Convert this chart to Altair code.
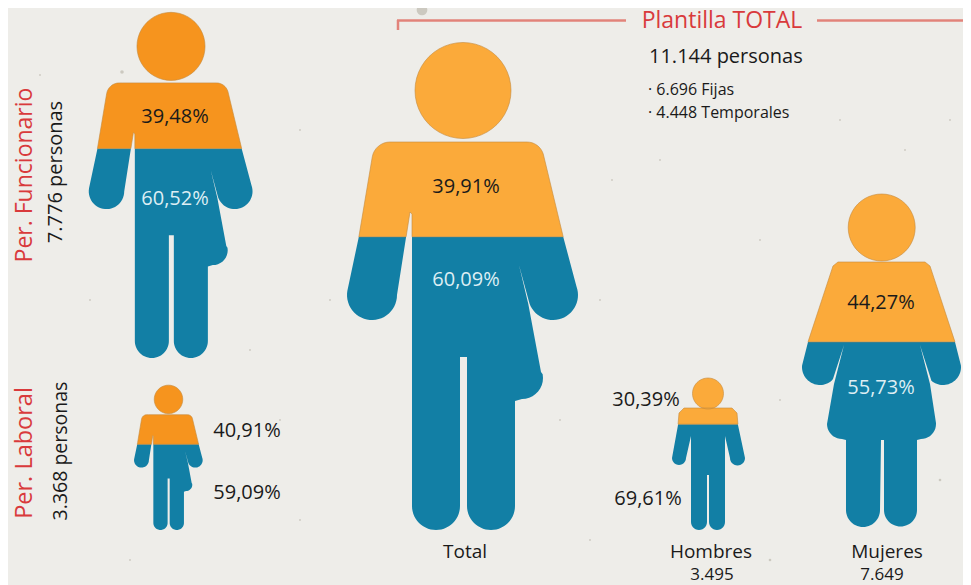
import math
import altair as alt
import pandas as pd

# ---------- values ----------
FIG_NAMES = ["Per. Funcionario", "Per. Laboral", "Total", "Hombres", "Mujeres"]
FIG_PERSONS = [7776, 3368, 11144, 3495, 7649]
FIG_TOP_SHARE = [39.48, 40.91, 39.91, 30.39, 44.27]
FIG_BOTTOM_SHARE = [60.52, 59.09, 60.09, 69.61, 55.73]

# ---------- layout (page pixels) ----------
FIG_TEMPLATE = ["male", "male", "male", "plain", "dress"]
FIG_CX = [171, 168.5, 463, 708, 881.7]
FIG_FOOT = [358, 530, 530, 530, 528]
FIG_HEIGHT = [346, 145, 488, 152, 334]
FIG_TOP_COLOR = ["#F6941E", "#F6941E", "#FBAA3A", "#FBAA3A", "#FBAA3A"]
BLUE = "#127FA5"
RED = "#D93A3C"
INK = "#1A1A1A"
PAPER = "#EEEDE9"
FONT = "Open Sans"
SPECK_X = [422, 269, 40, 122, 300, 330, 612, 840, 760, 905, 280, 90, 560, 600, 770, 950, 300, 250, 590, 780, 130, 30, 940, 660]
SPECK_Y = [10, 5, 75, 72, 130, 300, 180, 120, 240, 150, 420, 300, 420, 300, 560, 120, 520, 350, 540, 400, 560, 480, 480, 160]
SPECK_R = [6, 1.5, 1, 2, 1, 1, 1, 1, 1, 1, 1, 1, 1, 1, 1.5, 1, 1, 1, 1, 1, 1, 1, 1.5, 1]


def arc(cx, cy, r, a0, a1, n=28):
    return [(cx + r * math.cos(math.radians(a0 + (a1 - a0) * i / n)),
             cy + r * math.sin(math.radians(a0 + (a1 - a0) * i / n))) for i in range(n + 1)]


TEMPLATES = {
    "male": dict(
        cx=463, top=42, bottom=530, head=(463, 90.5, 48),
        body=[(395, 142)] + arc(527, 159, 17, -90, -17, 8)
        + [(563, 236)] + arc(553, 295, 25, -20, 160)
        + [(519, 265), (528.3, 304), (541, 372)] + arc(522, 378, 21, -10, 90, 10)
        + [(515, 401)] + arc(491, 506, 24, 0, 180)
        + [(467, 357), (460, 357)] + arc(436, 506, 24, 0, 180)
        + [(412, 214), (410, 212)] + arc(372, 295, 25, 0, 190)
        + [(359, 236)] + arc(390, 160, 18, 190, 270, 8),
    ),
    "plain": dict(
        cx=708, top=378, bottom=530, head=(708, 393.5, 15.5),
        body=[(684, 408), (732, 408), (737, 413), (738, 425), (745, 458)]
        + arc(737.5, 458, 7.5, 0, 180, 14)
        + [(725, 436)] + arc(717, 522, 8, 0, 180, 14)
        + [(709, 475), (707, 475)] + arc(699, 522, 8, 0, 180, 14)
        + [(691, 436)] + arc(679, 458, 7, 0, 180, 14)
        + [(678, 425), (679, 413)],
    ),
    "dress": dict(
        cx=881.7, top=194, bottom=528, head=(881.7, 227.5, 33.5),
        body=[(838, 262), (925, 262), (930, 266), (955, 342)] + arc(943, 367, 18, -5, 130)
        + [(920, 345), (930, 384), (936, 423)] + arc(921, 424, 15, 0, 90, 10)
        + [(917, 440)] + arc(900.5, 510, 16.5, 0, 180)
        + [(884, 440), (881, 440)] + arc(863, 510, 17, 0, 180)
        + [(846, 440)] + arc(842, 424, 15, 90, 180, 10)
        + [(834, 384), (844, 345), (833, 379)] + arc(820, 367, 18, 50, 185)
        + [(808, 342), (833, 266)],
    ),
}


def clip(poly, cut, keep_above):
    inside = (lambda p: p[1] <= cut) if keep_above else (lambda p: p[1] >= cut)
    out = []
    for i, p in enumerate(poly):
        q = poly[(i + 1) % len(poly)]
        if inside(p):
            out.append(p)
        if inside(p) != inside(q):
            t = (cut - p[1]) / (q[1] - p[1])
            out.append((p[0] + t * (q[0] - p[0]), cut))
    return out


def to_path(polys, t):
    h = t["bottom"] - t["top"]
    parts = []
    for poly in polys:
        coords = [(round((x - t["cx"]) / h * 100, 3), round((y - t["bottom"]) / h * 100, 3)) for x, y in poly]
        parts.append("M" + "L".join(f"{x},{y}" for x, y in coords) + "Z")
    return "".join(parts)


X = alt.Scale(domain=[8, 963], range=[0, 955], nice=False, zero=False)
Y = alt.Scale(domain=[8, 585], range=[0, 577], nice=False, zero=False)
layers = []


def place():
    return dict(x=alt.X("x:Q", scale=X, axis=None), y=alt.Y("y:Q", scale=Y, axis=None))


speck_df = pd.DataFrame({"x": SPECK_X, "y": SPECK_Y, "r": SPECK_R})
layers.append(alt.Chart(speck_df).mark_circle(color="#A9A598", opacity=0.5)
              .encode(size=alt.Size("r:Q", scale=alt.Scale(type="pow", exponent=2, domain=[0, 6], range=[0, 113]), legend=None), **place()))

for i, name in enumerate(FIG_NAMES):
    t = TEMPLATES[FIG_TEMPLATE[i]]
    cut = t["top"] + FIG_TOP_SHARE[i] / 100 * (t["bottom"] - t["top"])
    hx, hy, hr = t["head"]
    top_path = to_path([arc(hx, hy, hr, 0, 360, 48), clip(t["body"], cut, True)], t)
    low_path = to_path([clip(t["body"], cut, False)], t)
    df = pd.DataFrame({"x": [FIG_CX[i]], "y": [FIG_FOOT[i]], "figure": [name], "persons": [FIG_PERSONS[i]]})
    size = (FIG_HEIGHT[i] / 50) ** 2
    layers.append(alt.Chart(df).mark_point(shape=low_path, filled=True, fill=BLUE, opacity=1, strokeWidth=0)
                  .encode(size=alt.value(size), **place()))
    layers.append(alt.Chart(df).mark_point(shape=top_path, filled=True, fill=FIG_TOP_COLOR[i], opacity=1,
                                           stroke="#C58A3C", strokeWidth=0.6)
                  .encode(size=alt.value(size), **place()))


def share(v):
    return f"{v:.2f}".replace(".", ",") + "%"


def persons(v):
    return f"{v:,}".replace(",", ".")


LIGHT = "#DDEEF4"
PCT = 20
TEXTS = [
    (share(FIG_TOP_SHARE[0]), 175, 117, PCT, INK, 0, "center"),
    (share(FIG_BOTTOM_SHARE[0]), 175, 199, PCT, LIGHT, 0, "center"),
    (share(FIG_TOP_SHARE[1]), 247, 431, PCT, INK, 0, "center"),
    (share(FIG_BOTTOM_SHARE[1]), 247, 493, PCT, INK, 0, "center"),
    (share(FIG_TOP_SHARE[2]), 466, 187, PCT, INK, 0, "center"),
    (share(FIG_BOTTOM_SHARE[2]), 466, 280, PCT, LIGHT, 0, "center"),
    (share(FIG_TOP_SHARE[3]), 646, 400, PCT, INK, 0, "center"),
    (share(FIG_BOTTOM_SHARE[3]), 648, 499, PCT, INK, 0, "center"),
    (share(FIG_TOP_SHARE[4]), 881, 303, PCT, INK, 0, "center"),
    (share(FIG_BOTTOM_SHARE[4]), 881, 388, PCT, LIGHT, 0, "center"),
    (FIG_NAMES[0], 25, 175, 23, RED, 270, "center"),
    (persons(FIG_PERSONS[0]) + " personas", 55.5, 172, 20, INK, 270, "center"),
    (FIG_NAMES[1], 25, 453, 23.5, RED, 270, "center"),
    (persons(FIG_PERSONS[1]) + " personas", 61, 451, 19.5, INK, 270, "center"),
    (FIG_NAMES[2], 465, 552, 19, INK, 0, "center"),
    (FIG_NAMES[3], 711, 552, 19, INK, 0, "center"),
    (persons(FIG_PERSONS[3]), 712, 575, 17, INK, 0, "center"),
    (FIG_NAMES[4], 887, 552, 19, INK, 0, "center"),
    (persons(FIG_PERSONS[4]), 882, 575, 17, INK, 0, "center"),
    ("Plantilla TOTAL", 722, 21, 23, RED, 0, "center"),
    (persons(FIG_PERSONS[2]) + " personas", 649, 57, 20, INK, 0, "left"),
    ("· 6.696 Fijas", 648, 90, 16, INK, 0, "left"),
    ("· 4.448 Temporales", 648, 113, 16, INK, 0, "left"),
]
for text, x, y, fs, col, ang, al in TEXTS:
    df = pd.DataFrame({"x": [x], "y": [y], "label": [text]})
    layers.append(alt.Chart(df).mark_text(font=FONT, fontSize=fs, color=col, angle=ang, align=al, baseline="middle")
                  .encode(text="label:N", **place()))

RULES = [(397, 626, 20.5, 20.5), (817, 963, 20.5, 20.5), (398, 398, 20, 30)]
for x0, x1, y0, y1 in RULES:
    df = pd.DataFrame({"x": [x0], "x2": [x1], "y": [y0], "y2": [y1]})
    layers.append(alt.Chart(df).mark_rule(color="#E2837A", strokeWidth=2.5)
                  .encode(x=alt.X("x:Q", scale=X, axis=None), x2="x2:Q",
                          y=alt.Y("y:Q", scale=Y, axis=None), y2="y2:Q"))

chart = alt.layer(*layers).properties(
    width=955, height=577, background=PAPER, padding=0,
    autosize=alt.AutoSizeParams(type="none"),
).configure_view(stroke=None)

chart.save("out.html", embed_options={"renderer": "svg", "actions": False})
